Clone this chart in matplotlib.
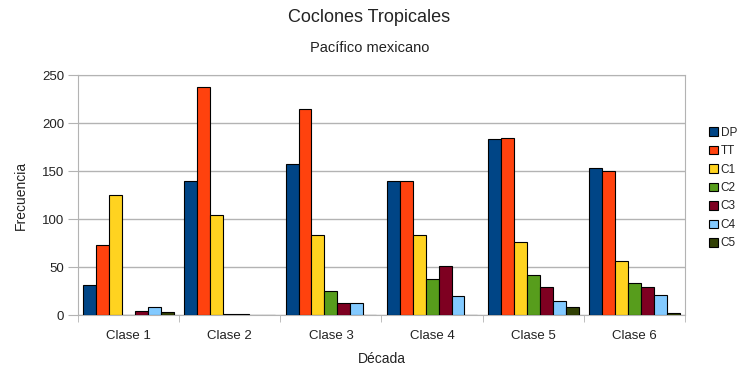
import numpy as np
import matplotlib.pyplot as plt
from matplotlib.patches import Patch

plt.rcParams["font.family"] = ["Liberation Sans", "DejaVu Sans"]

categorias = ["Clase 1", "Clase 2", "Clase 3", "Clase 4", "Clase 5", "Clase 6"]
series = ["DP", "TT", "C1", "C2", "C3", "C4", "C5"]
dp = [31, 140, 157, 140, 183, 153]
tt = [73, 238, 215, 140, 184, 150]
c1 = [125, 104, 83, 83, 76, 56]
c2 = [0, 1, 25, 37, 42, 33]
c3 = [4, 1, 12, 51, 29, 29]
c4 = [8, 0, 12, 20, 15, 21]
c5 = [3, 0, 0, 0, 8, 2]
colores = ["#004586", "#ff420e", "#ffd320", "#579d1c", "#7e0021", "#83caff", "#314004"]

valores = [dp, tt, c1, c2, c3, c4, c5]
gris = "#b3b3b3"
texto = "#222222"

fig = plt.figure(figsize=(7.39, 3.68), dpi=100)
ax = fig.add_axes([78 / 739, 1 - 315 / 368, 607 / 739, 240 / 368])

x = np.arange(len(categorias))
ancho = 0.128
for i, (nombre, vals, col) in enumerate(zip(series, valores, colores)):
    offset = (i - 3) * ancho
    ax.bar(x + offset, vals, ancho, color=col, edgecolor="black", linewidth=0.8,
           label=nombre, zorder=3)

ax.set_xlim(-0.5, len(categorias) - 0.5)
ax.set_ylim(0, 250)
ax.set_yticks(range(0, 251, 50))
ax.set_xticks(x)
ax.set_xticklabels(categorias, fontsize=9.5, color=texto)
ax.set_xticks(np.arange(-0.5, len(categorias), 1), minor=True)
ax.tick_params(axis="x", which="major", length=0, pad=11)
ax.tick_params(axis="x", which="minor", length=5, color=gris)
ax.tick_params(axis="y", labelsize=9.5, labelcolor=texto, length=7, color=gris, pad=3)
ax.grid(axis="y", color=gris, linewidth=1, zorder=0)
for s in ax.spines.values():
    s.set_color(gris)

ax.set_ylabel("Frecuencia", fontsize=10, color=texto, labelpad=10)
ax.set_xlabel("Década", fontsize=10, color=texto, labelpad=7)

fig.text(0.5, 1 - 18 / 368, "Coclones Tropicales", ha="center", va="center",
         fontsize=13, color=texto)
fig.text(0.5, 1 - 48 / 368, "Pacífico mexicano", ha="center", va="center",
         fontsize=10.5, color=texto)

handles = [Patch(facecolor=c, edgecolor="black", linewidth=0.8, label=n)
           for n, c in zip(series, colores)]
fig.legend(handles=handles, loc="center left", bbox_to_anchor=(704 / 739, 1 - 188 / 368),
           frameon=False, fontsize=8.5, labelcolor=texto, handlelength=0.75,
           handleheight=0.75, handletextpad=0.25, labelspacing=0.55, borderaxespad=0)

fig.savefig("out.png", dpi=100)
